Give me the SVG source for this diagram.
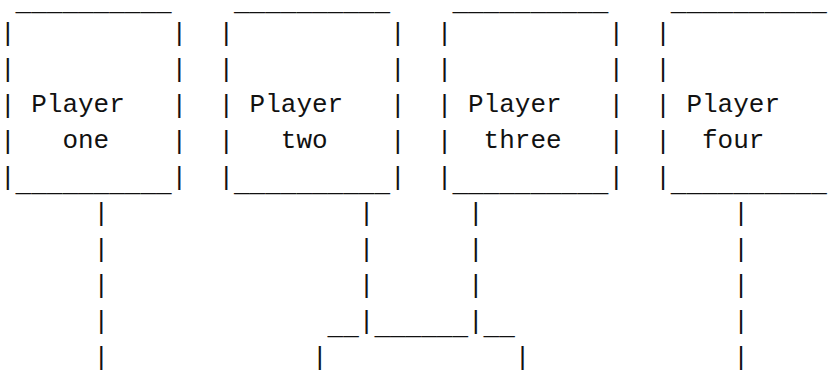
<svg xmlns="http://www.w3.org/2000/svg" width="834" height="370" viewBox="0 0 834 370">
<style>
text { font-family: "Liberation Mono", "Courier New", monospace; font-size: 26px; fill: #111; white-space: pre; }
</style>
<rect width="834" height="370" fill="#fff"/>
<g id="player-one">
<text x="15.6" y="10">__________</text>
<text x="0" y="40.5">|</text><text x="171.6" y="40.5">|</text>
<text x="0" y="76.5">|</text><text x="171.6" y="76.5">|</text>
<text x="0" y="112.5">|</text><text x="31.2" y="111.5">Player</text><text x="171.6" y="112.5">|</text>
<text x="0" y="148.5">|</text><text x="62.4" y="147.5">one</text><text x="171.6" y="148.5">|</text>
<text x="0" y="184.5">|</text><text x="15.6" y="190.5">__________</text><text x="171.6" y="184.5">|</text>
</g>
<g id="player-two">
<text x="234" y="10">__________</text>
<text x="218.4" y="40.5">|</text><text x="390" y="40.5">|</text>
<text x="218.4" y="76.5">|</text><text x="390" y="76.5">|</text>
<text x="218.4" y="112.5">|</text><text x="249.6" y="111.5">Player</text><text x="390" y="112.5">|</text>
<text x="218.4" y="148.5">|</text><text x="280.8" y="147.5">two</text><text x="390" y="148.5">|</text>
<text x="218.4" y="184.5">|</text><text x="234" y="190.5">__________</text><text x="390" y="184.5">|</text>
</g>
<g id="player-three">
<text x="452.4" y="10">__________</text>
<text x="436.8" y="40.5">|</text><text x="608.4" y="40.5">|</text>
<text x="436.8" y="76.5">|</text><text x="608.4" y="76.5">|</text>
<text x="436.8" y="112.5">|</text><text x="468" y="111.5">Player</text><text x="608.4" y="112.5">|</text>
<text x="436.8" y="148.5">|</text><text x="483.6" y="147.5">three</text><text x="608.4" y="148.5">|</text>
<text x="436.8" y="184.5">|</text><text x="452.4" y="190.5">__________</text><text x="608.4" y="184.5">|</text>
</g>
<g id="player-four">
<text x="670.8" y="10">__________</text>
<text x="655.2" y="40.5">|</text>
<text x="655.2" y="76.5">|</text>
<text x="655.2" y="112.5">|</text><text x="686.4" y="111.5">Player</text>
<text x="655.2" y="148.5">|</text><text x="702" y="147.5">four</text>
<text x="655.2" y="184.5">|</text><text x="670.8" y="190.5">__________</text>
</g>
<g id="connectors">
<text x="93.6" y="220.5">|</text><text x="358.8" y="220.5">|</text><text x="468" y="220.5">|</text><text x="733.2" y="220.5">|</text>
<text x="93.6" y="256.5">|</text><text x="358.8" y="256.5">|</text><text x="468" y="256.5">|</text><text x="733.2" y="256.5">|</text>
<text x="93.6" y="292.5">|</text><text x="358.8" y="292.5">|</text><text x="468" y="292.5">|</text><text x="733.2" y="292.5">|</text>
<text x="93.6" y="328.5">|</text><text x="358.8" y="328.5">|</text><text x="468" y="328.5">|</text><text x="733.2" y="328.5">|</text>
<text x="327.6" y="334">__</text><text x="374.4" y="334">______</text><text x="483.6" y="334">__</text>
<text x="93.6" y="364.5">|</text><text x="312" y="364.5">|</text><text x="514.8" y="364.5">|</text><text x="733.2" y="364.5">|</text>
</g>
</svg>
